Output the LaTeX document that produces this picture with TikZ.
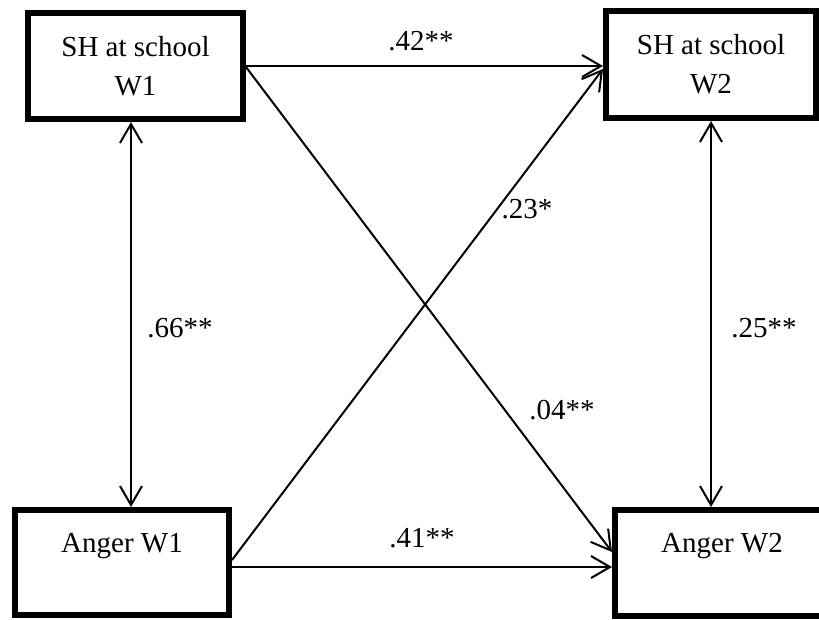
\documentclass[tikz,border=0pt]{standalone}
\usepackage{fontspec}
\setmainfont{Liberation Serif}
\usetikzlibrary{arrows.meta}

\begin{document}
\begin{tikzpicture}[
  x=1pt, y=-1pt,
  var/.style  = {draw, line width=6pt, rectangle, align=center, inner sep=0pt,
                 font=\fontsize{29}{39}\selectfont},
  coef/.style = {font=\fontsize{29}{34}\selectfont, inner sep=0pt},
  barb/.style = {Straight Barb[length=19pt, width=22pt]},
  arr/.style  = {-{Straight Barb[length=19pt, width=22pt]}, line width=2pt},
  dbl/.style  = {{Straight Barb[length=19pt, width=22pt]}-{Straight Barb[length=19pt, width=22pt]}, line width=2pt},
]
\useasboundingbox (0,0) rectangle (819,619);
% variables, wave 1 and wave 2
\node[var, minimum width=215pt, minimum height=106pt] (shw1) at (135.5,66)  {SH at school\\ W1};
\node[var, minimum width=210pt, minimum height=107pt] (shw2) at (711,64.5)  {SH at school\\ W2};
\node[var, minimum width=214pt, minimum height=105pt] (angw1) at (122,562.5) {Anger W1\\ \phantom{W1}};
\node[var, minimum width=214pt, minimum height=106pt] (angw2) at (722,563)  {Anger W2\\ \phantom{W2}};
% coefficients
\node[coef] (c42) at (421,41)  {.42**};
\node[coef] (c23) at (527,209) {.23*};
\node[coef] (c66) at (180,328) {.66**};
\node[coef] (c25) at (764,328) {.25**};
\node[coef] (c04) at (562,410) {.04**};
\node[coef] (c41) at (422,538) {.41**};
% paths
\draw[arr] (shw1.east) -- (shw1.east -| shw2.west);
\draw[arr] ([yshift=-1pt]shw1.east) -- ([yshift=11pt]angw2.west);
\draw[arr] ([yshift=2.5pt]angw1.east) -- ([yshift=-4.5pt]shw2.west);
\draw[arr] ([yshift=-4.5pt]angw1.east) -- ([yshift=-4pt]angw2.west);
\draw[dbl] ([xshift=-4.5pt]shw1.south) -- ([xshift=9pt]angw1.north);
\draw[dbl] (shw2.south) -- ([xshift=-11pt]angw2.north);
\end{tikzpicture}
\end{document}
